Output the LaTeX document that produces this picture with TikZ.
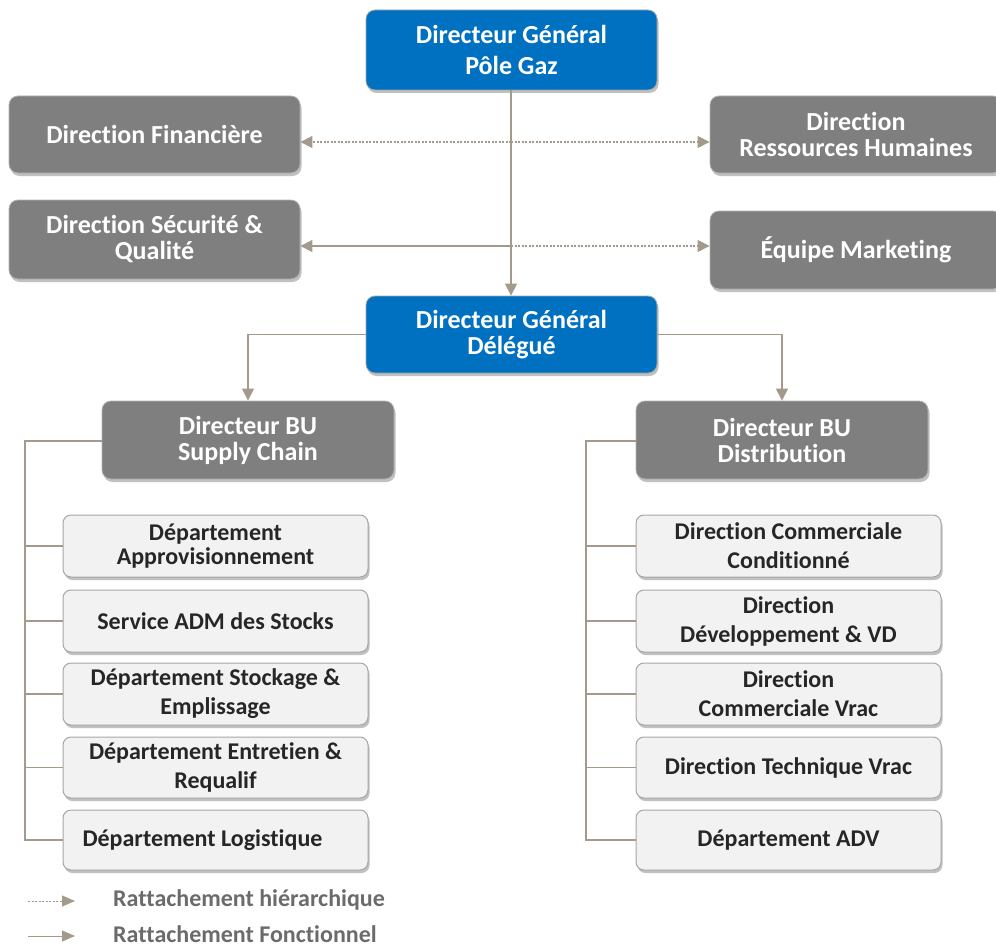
\documentclass[tikz,border=0pt]{standalone}
\usepackage{fontspec}
\setmainfont{Carlito}[Ligatures={NoCommon}]
\usetikzlibrary{arrows.meta,shadows}
\definecolor{dgblue}{HTML}{0070C0}
\definecolor{boxgray}{HTML}{7F7F7F}
\definecolor{subfill}{HTML}{F2F2F2}
\definecolor{subdraw}{HTML}{A6A6A6}
\definecolor{conn}{HTML}{A39A8C}
\definecolor{legtext}{HTML}{6B6B6B}
\definecolor{subtext}{HTML}{262626}
\tikzset{
  x=1pt,y=-1pt,
  base/.style={rectangle,rounded corners=9pt,align=center,inner sep=2pt,
    drop shadow={shadow xshift=1.5pt,shadow yshift=-3pt,opacity=0.35,fill=black!70}},
  bluebox/.style={base,fill=dgblue,draw=black!35,line width=0.8pt,text=white,
    minimum width=291pt,minimum height=78pt,font=\bfseries\fontsize{26}{26}\selectfont},
  graybox/.style={base,fill=boxgray,draw=black!30,line width=0.8pt,text=white,
    minimum width=291pt,minimum height=77pt,font=\bfseries\fontsize{26}{26}\selectfont},
  subbox/.style={base,fill=subfill,draw=subdraw,line width=1pt,text=subtext,
    rounded corners=8pt,minimum width=305pt,minimum height=62pt,
    font=\bfseries\fontsize{24}{29}\selectfont},
  link/.style={draw=conn,line width=1.2pt},
  tip/.style={-{Triangle[length=12pt,width=12pt]}},
  ltip/.style={-{Triangle[length=13pt,width=11pt]}},
  hier/.style={link,dash pattern=on 2pt off 1.5pt},
  legend/.style={anchor=west,inner sep=0pt,text=legtext,font=\bfseries\fontsize{24}{28}\selectfont}
}
\begin{document}
\begin{tikzpicture}
\useasboundingbox (0,0) rectangle (996,947);
\begin{scope}
\clip (0,0) rectangle (996,947);
% top level
\node[bluebox,minimum height=80pt] (dg) at (511.5,50) {Directeur Général\\[5pt]Pôle Gaz};
\node[graybox] (fin) at (154.5,134.5) {Direction Financière};
\node[graybox,minimum width=292pt] (rh) at (856,134.5) {Direction\\Ressources Humaines};
\node[graybox,minimum height=79pt] (secu) at (154.5,239.5) {Direction Sécurité \&\\Qualité};
\node[graybox,minimum width=292pt,minimum height=78pt] (mkt) at (856,250) {Équipe Marketing};
\node[bluebox,minimum height=77pt] (dgd) at (511.5,334.5) {Directeur Général\\Délégué};
\node[graybox,minimum width=292pt,minimum height=78pt] (bu1) at (248,440) {Directeur BU\\Supply Chain};
\node[graybox,minimum width=292pt,minimum height=78pt] (bu2) at (782,440) {Directeur BU\\Distribution};
% left column
\node[subbox] (s1) at (215.5,546) {Département\\[-5pt]Approvisionnement};
\node[subbox] (s2) at (215.5,621) {Service ADM des Stocks};
\node[subbox] (s3) at (215.5,694) {Département Stockage \&\\Emplissage};
\node[subbox,minimum height=61pt] (s4) at (215.5,767.5) {Département Entretien \&\\Requalif};
\node[subbox,minimum height=60pt] (s5) at (215.5,840) {Département Logistique\rule{26pt}{0pt}};
% right column
\node[subbox] (d1) at (788.5,546) {Direction Commerciale\\Conditionné};
\node[subbox] (d2) at (788.5,621) {Direction\\Développement \& VD};
\node[subbox] (d3) at (788.5,694) {Direction\\Commerciale Vrac};
\node[subbox,minimum height=61pt] (d4) at (788.5,767.5) {Direction Technique Vrac};
\node[subbox,minimum height=60pt] (d5) at (788.5,840) {Département ADV};
\end{scope}
% connectors
\coordinate (j1) at (511,142);
\coordinate (j2) at (511,246);
\draw[hier,tip] (j1) -- (j1 -| fin.east);
\draw[hier,tip] (j1) -- (j1 -| rh.west);
\draw[link,tip] (j2) -- (j2 -| secu.east);
\draw[hier,tip] (j2) -- (j2 -| mkt.west);
\draw[link,tip] (dg.south -| j1) -- (dgd.north -| j1);
\draw[link,tip] (dgd.west) -| (bu1.north);
\draw[link,tip] (dgd.east) -| (bu2.north);
% trees
\coordinate (tl) at (25,441);
\coordinate (tr) at (586,441);
\draw[link] (bu1.west |- tl) -- (tl) |- (s5.west);
\foreach \n in {s1,s2,s3,s4} \draw[link] (\n.west) -- (\n.west -| tl);
\draw[link] (bu2.west |- tr) -- (tr) |- (d5.west);
\foreach \n in {d1,d2,d3,d4} \draw[link] (\n.west) -- (\n.west -| tr);
% legend
\coordinate (la1) at (28,901);
\coordinate (lb1) at (75,901);
\coordinate (la2) at (28,936);
\coordinate (lb2) at (75,936);
\draw[hier,ltip,line width=1pt] (la1) -- (lb1);
\draw[link,ltip,line width=1pt] (la2) -- (lb2);
\node[legend] (l1) at (113,900) {Rattachement hiérarchique};
\node[legend] (l2) at (113,934) {Rattachement Fonctionnel};
\end{tikzpicture}
\end{document}
